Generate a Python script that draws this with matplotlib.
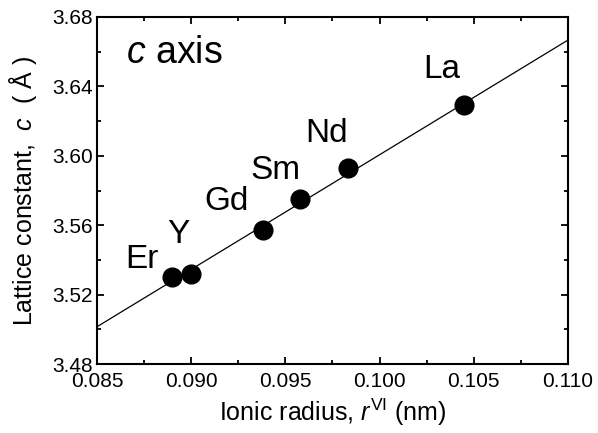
import matplotlib
matplotlib.use("Agg")
import matplotlib.pyplot as plt
from matplotlib.ticker import MultipleLocator, FormatStrFormatter

# lattice constant c vs ionic radius
elements = ["Er", "Y", "Gd", "Sm", "Nd", "La"]
radius = [0.0890, 0.0900, 0.0938, 0.0958, 0.0983, 0.1045]
c_const = [3.530, 3.532, 3.557, 3.575, 3.593, 3.629]

# straight fit line, end points
fit_x = [0.085, 0.110]
fit_y = [3.5015, 3.6667]

# label centres (data coords)
label_x = [0.0874, 0.0893, 0.0919, 0.0945, 0.0972, 0.1033]
label_y = [3.5405, 3.5549, 3.5735, 3.5914, 3.6130, 3.6495]

plt.rcParams["font.family"] = ["Liberation Sans", "DejaVu Sans"]
plt.rcParams["mathtext.fontset"] = "custom"
plt.rcParams["mathtext.rm"] = "Liberation Sans"
plt.rcParams["mathtext.it"] = "Liberation Sans:italic"

fig = plt.figure(figsize=(5.98, 4.33), dpi=100)
ax = fig.add_axes([0.162, 0.159, 0.788, 0.802])

ax.plot(fit_x, fit_y, color="black", linewidth=0.9)
ax.plot(radius, c_const, "o", color="black", markersize=13.5)

for name, lx, ly in zip(elements, label_x, label_y):
    ax.text(lx, ly, name, fontsize=24, ha="center", va="center")

ax.text(0.0891, 3.6593, "$c$ axis", fontsize=27, ha="center", va="center")

ax.set_xlim(0.085, 0.110)
ax.set_ylim(3.48, 3.68)
ax.xaxis.set_major_locator(MultipleLocator(0.005))
ax.xaxis.set_minor_locator(MultipleLocator(0.0025))
ax.yaxis.set_major_locator(MultipleLocator(0.04))
ax.yaxis.set_minor_locator(MultipleLocator(0.02))
ax.xaxis.set_major_formatter(FormatStrFormatter("%.3f"))
ax.yaxis.set_major_formatter(FormatStrFormatter("%.2f"))

ax.tick_params(which="both", direction="in", top=True, right=True,
               width=1.3, labelsize=15)
ax.tick_params(axis="x", pad=6)
ax.tick_params(axis="y", pad=3)
ax.tick_params(which="major", length=5)
ax.tick_params(which="minor", length=3)
for sp in ax.spines.values():
    sp.set_linewidth(1.5)

ax.set_xlabel(r"Ionic radius, $r^{\mathrm{VI}}$ (nm)", fontsize=18, labelpad=4)
ax.set_ylabel(r"Lattice constant,  $c$  ( Å )", fontsize=18, labelpad=9)

fig.savefig("out.png", dpi=100)
